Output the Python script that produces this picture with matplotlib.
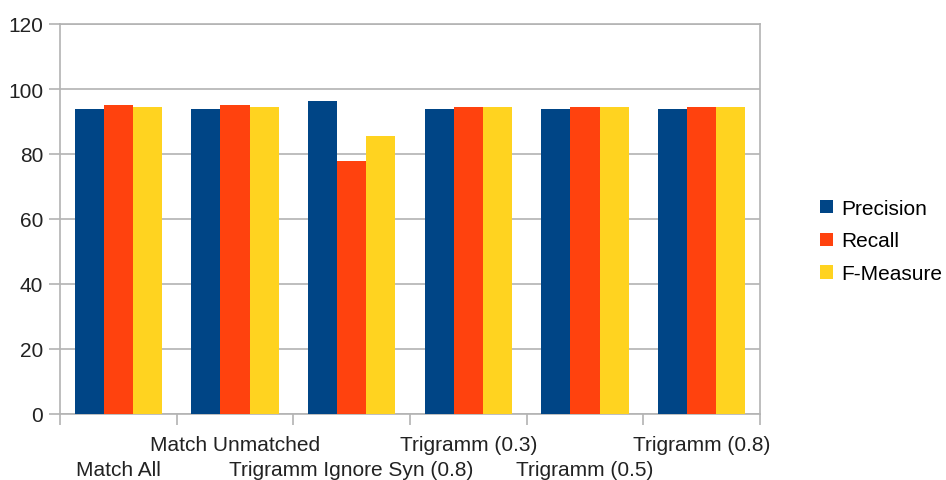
import numpy as np
import matplotlib
matplotlib.use('Agg')
from matplotlib import pyplot as plt
from matplotlib.patches import Patch

matplotlib.rcParams['font.family'] = ['Liberation Sans', 'DejaVu Sans']

categories = ['Match All', 'Match Unmatched', 'Trigramm Ignore Syn (0.8)',
              'Trigramm (0.3)', 'Trigramm (0.5)', 'Trigramm (0.8)']
precision = [93.8, 93.8, 96.2, 93.8, 93.8, 93.8]
recall = [95.1, 95.1, 77.8, 94.4, 94.4, 94.4]
fmeasure = [94.4, 94.4, 85.6, 94.4, 94.4, 94.4]

colors = ['#004586', '#ff420e', '#ffd320']
names = ['Precision', 'Recall', 'F-Measure']
fs = 15

fig = plt.figure(figsize=(9.46, 4.81), dpi=100)
ax = fig.add_axes([60/946, 1-415/481, (760-60)/946, (415-25)/481])

x = np.arange(len(categories))
w = 0.25
for i, (vals, c) in enumerate(zip([precision, recall, fmeasure], colors)):
    ax.bar(x + (i - 1) * w, vals, w, color=c, zorder=3)

ax.set_xlim(-0.5, len(categories) - 0.5)
ax.set_ylim(0, 120)
ax.set_yticks(np.arange(0, 121, 20))
ax.yaxis.grid(True, color='#b3b3b3', linewidth=1.2, zorder=0)

# ticks at group boundaries, category names staggered on two rows
ax.set_xticks(np.arange(-0.5, len(categories), 1.0))
ax.set_xticklabels([])
ax.tick_params(axis='x', length=8, width=1.2, color='#b3b3b3')
ax.tick_params(axis='y', length=8, width=1.2, color='#b3b3b3', pad=4,
               labelsize=fs, labelcolor='#222222')
for i, c in enumerate(categories):
    off = -33 if i % 2 == 0 else -15
    ax.annotate(c, xy=(x[i], 0), xycoords=('data', 'axes fraction'),
                xytext=(0, off), textcoords='offset points',
                ha='center', va='top', fontsize=fs, color='#222222',
                annotation_clip=False)

for s in ax.spines.values():
    s.set_color('#b3b3b3')
    s.set_linewidth(1.2)

handles = [Patch(facecolor=c, label=n) for c, n in zip(colors, names)]
fig.legend(handles=handles, loc='center left', bbox_to_anchor=(810/946, 1-242/481),
           frameon=False, fontsize=fs, handlelength=0.6, handleheight=0.6,
           handletextpad=0.4, labelspacing=0.66, borderpad=0)

fig.savefig('out.png', dpi=100)
